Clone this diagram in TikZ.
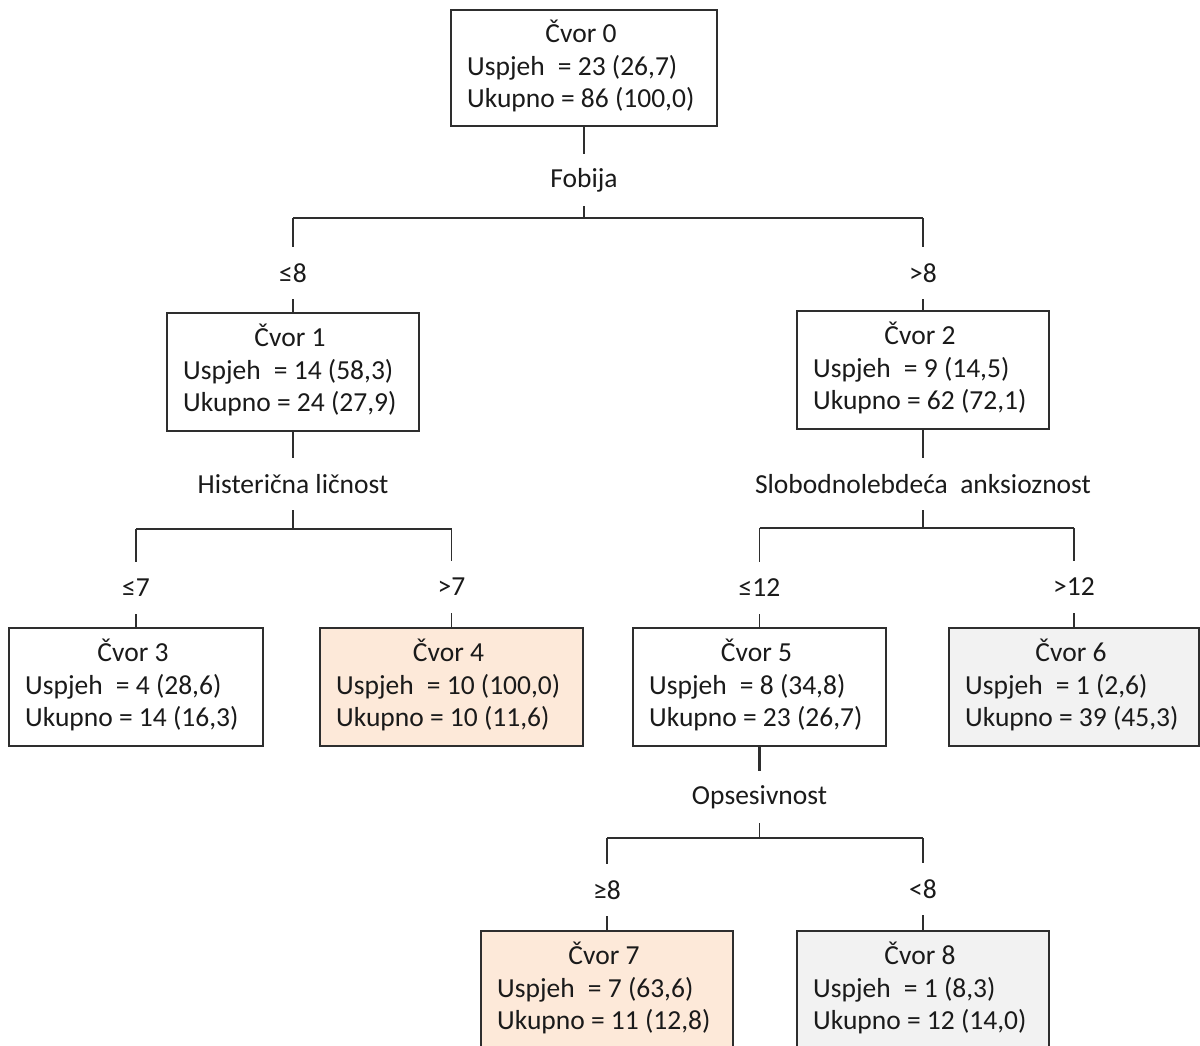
\documentclass[tikz,border=0pt]{standalone}
\usepackage{fontspec}
\setmainfont{Carlito}
\usetikzlibrary{calc}
\definecolor{peach}{HTML}{FDE9D9}
\definecolor{lgray}{HTML}{F2F2F2}
\definecolor{txt}{HTML}{1A1A1A}
\definecolor{ln}{HTML}{2E2E2E}
\newcommand{\treebox}[9]{%
  \node[box, fill=#6, minimum width=#4pt, minimum height=#5pt] (#1) at (#2,#3) {};
  \node[ttl] (#1t) at ($(#1.north)+(-3,33)$) {#7};
  \node[row] (#1a) at ($(#1.north west)+(16,66)$) {Uspjeh\hspace{7pt} = #8};
  \node[row] (#1b) at ($(#1.north west)+(16,98)$) {Ukupno = #9};
}
\begin{document}
\begin{tikzpicture}[x=1pt,y=-1pt,
  box/.style={draw=ln, line width=1.4pt, inner sep=0pt, outer sep=0pt, anchor=north west},
  ttl/.style={anchor=base, inner sep=0pt, text=txt},
  row/.style={anchor=base west, inner sep=0pt, text=txt},
  lbl/.style={inner sep=0pt, minimum height=52pt, text=txt},
  conn/.style={draw=ln, line width=1.4pt},
  font=\fontsize{27.5}{32}\selectfont]
\useasboundingbox (0,0) rectangle (1200,1046);
\clip (0,0) rectangle (1200,1046);
\fill[white] (0,0) rectangle (1200,1046);

% boxes
\treebox{n0}{451}{10}{266}{116}{white}{Čvor 0}{23 (26,7)}{86 (100,0)}
\treebox{n1}{167}{313}{252}{118}{white}{Čvor 1}{14 (58,3)}{24 (27,9)}
\treebox{n2}{797}{311}{252}{118}{white}{Čvor 2}{9 (14,5)}{62 (72,1)}
\treebox{n3}{9}{628}{254}{118}{white}{Čvor 3}{4 (28,6)}{14 (16,3)}
\treebox{n4}{320}{628}{263}{118}{peach}{Čvor 4}{10 (100,0)}{10 (11,6)}
\treebox{n5}{633}{628}{253}{118}{white}{Čvor 5}{8 (34,8)}{23 (26,7)}
\treebox{n6}{949}{628}{250}{118}{lgray}{Čvor 6}{1 (2,6)}{39 (45,3)}
\treebox{n7}{481}{931}{252}{118}{peach}{Čvor 7}{7 (63,6)}{11 (12,8)}
\treebox{n8}{797}{931}{252}{118}{lgray}{Čvor 8}{1 (8,3)}{12 (14,0)}

% split 0
\node[lbl] (s0) at (n0.south |- 0,180) {Fobija};
\coordinate (b0) at (n0.south |- 0,218);
\draw[conn] (n0.south) -- (s0.north);
\draw[conn] (s0.south) -- (b0);
\draw[conn] (n1.north |- b0) -- (n2.north |- b0);
\node[lbl] (e1) at (n1.north |- 0,273) {≤8};
\node[lbl] (e2) at (n2.north |- 0,273) {>8};
\draw[conn] (n1.north |- b0) -- (e1.north);
\draw[conn] (e1.south) -- (n1.north);
\draw[conn] (n2.north |- b0) -- (e2.north);
\draw[conn] (e2.south) -- (n2.north);

% split 1
\node[lbl] (s1) at (n1.south |- 0,484) {Histerična ličnost};
\coordinate (b1) at (n1.south |- 0,529);
\draw[conn] (n1.south) -- (s1.north);
\draw[conn] (s1.south) -- (b1);
\draw[conn] (n3.north |- b1) -- (n4.north |- b1);
\node[lbl] (e3) at (n3.north |- 0,588) {≤7};
\node[lbl] (e4) at (n4.north |- 0,587) {>7};
\draw[conn] (n3.north |- b1) -- (e3.north);
\draw[conn] (e3.south) -- (n3.north);
\draw[conn] (n4.north |- b1) -- (e4.north);
\draw[conn] (e4.south) -- (n4.north);

% split 2
\node[lbl] (s2) at (n2.south |- 0,484) {Slobodnolebdeća\ \ anksioznost};
\coordinate (b2) at (n2.south |- 0,528);
\draw[conn] (n2.south) -- (s2.north);
\draw[conn] (s2.south) -- (b2);
\draw[conn] (n5.north |- b2) -- (n6.north |- b2);
\node[lbl] (e5) at (n5.north |- 0,588) {≤12};
\node[lbl] (e6) at (n6.north |- 0,587) {>12};
\draw[conn] (n5.north |- b2) -- (e5.north);
\draw[conn] (e5.south) -- (n5.north);
\draw[conn] (n6.north |- b2) -- (e6.north);
\draw[conn] (e6.south) -- (n6.north);

% split 5
\node[lbl] (s5) at (n5.south |- 0,797) {Opsesivnost};
\coordinate (b5) at (n5.south |- 0,838);
\draw[conn, line width=2.4pt] (n5.south) -- (s5.north);
\draw[conn] (s5.south) -- (b5);
\draw[conn] (n7.north |- b5) -- (n8.north |- b5);
\node[lbl] (e7) at (n7.north |- 0,890) {≥8};
\node[lbl] (e8) at (n8.north |- 0,889) {<8};
\draw[conn] (n7.north |- b5) -- (e7.north);
\draw[conn] (e7.south) -- (n7.north);
\draw[conn] (n8.north |- b5) -- (e8.north);
\draw[conn] (e8.south) -- (n8.north);
\end{tikzpicture}
\end{document}
